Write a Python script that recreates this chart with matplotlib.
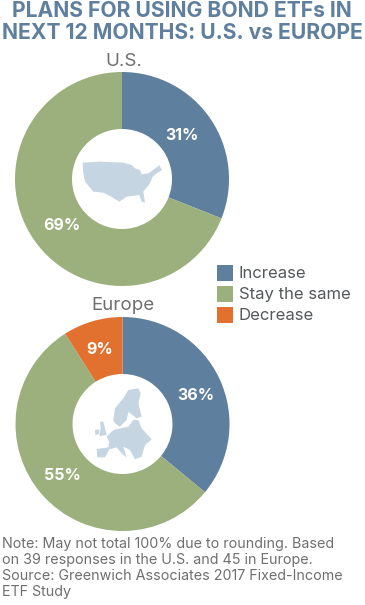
import matplotlib
matplotlib.use('Agg')
import matplotlib.pyplot as plt
from matplotlib.patches import Polygon, Rectangle

categories = ['Increase', 'Stay the same', 'Decrease']
us_values = [31, 69, 0]
eu_values = [36, 55, 9]
colors = ['#5f7f9e', '#9bb07d', '#e2702f']
title_lines = ['PLANS FOR USING BOND ETFs IN', 'NEXT 12 MONTHS: U.S. vs EUROPE']
note_lines = ['Note: May not total 100% due to rounding. Based',
              'on 39 responses in the U.S. and 45 in Europe.',
              'Source: Greenwich Associates 2017 Fixed-Income',
              'ETF Study']
# decorative map outlines, in reference pixels
us_zoom = [(68,68),(120,65),(190,68),(215,75),(225,85),(240,90),(245,103),(265,100),(298,76),(306,90),(290,100),(278,110),(270,130),(250,155),(255,188),(245,185),(238,165),(200,170),(178,185),(150,168),(130,158),(100,155),(75,125),(70,100)]
eu_zoom = [
 [(130,150),(135,115),(160,85),(175,60),(205,55),(212,70),(205,100),(215,140),(200,145),(175,125),(170,150),(150,170),(135,160)],
 [(90,155),(100,155),(110,195),(88,198),(92,175)],
 [(75,180),(88,178),(88,192),(76,195)],
 [(110,200),(130,180),(175,170),(190,150),(205,150),(215,175),(245,208),(225,225),(215,260),(195,268),(180,240),(160,230),(170,262),(155,250),(140,232),(118,238),(105,262),(82,262),(80,237),(115,232),(118,215)],
]
W, H = 365, 605
plt.rcParams['font.family'] = ['Inter', 'DejaVu Sans']
fig = plt.figure(figsize=(W/100, H/100), dpi=100)

def donut(cx, cy, r, vals):
    ax = fig.add_axes([(cx-r)/W, 1-(cy+r)/H, 2*r/W, 2*r/H])
    ax.pie(vals, colors=colors, startangle=90, counterclock=False, radius=1,
           wedgeprops=dict(width=1-50/r, linewidth=0), normalize=True)
    ax.set_xlim(-1, 1); ax.set_ylim(-1, 1); ax.axis('off')

donut(122, 179, 107, us_values)
donut(122.5, 424, 107, eu_values)

top = fig.add_axes([0, 0, 1, 1], zorder=10)
top.set_xlim(0, W); top.set_ylim(H, 0); top.axis('off')
top.patch.set_alpha(0)
top.add_patch(Polygon([(60+x/3, 140+y/3) for x, y in us_zoom], closed=True, fc='#c5d5e2', ec='none'))
for part in eu_zoom:
    top.add_patch(Polygon([(70+x/3, 370+y/3) for x, y in part], closed=True, fc='#c5d5e2', ec='none'))

for y, t in zip((11, 33), title_lines):
    top.text(182, y, t, color='#5f7f9e', fontsize=15.2, fontweight='bold', ha='center', va='center')
top.text(124, 61, 'U.S.', color='#6f6f6f', fontsize=13.5, ha='center', va='center')
top.text(123, 306, 'Europe', color='#6f6f6f', fontsize=13.5, ha='center', va='center')
for x, y, s in [(182,136,'31%'),(62,225,'69%'),(196,396,'36%'),(62,475,'55%'),(100,350,'9%')]:
    top.text(x, y, s, color='white', fontsize=11.5, fontweight='bold', ha='center', va='center')
for y, c, t in zip((273, 294, 315), colors, categories):
    top.add_patch(Rectangle((217, y-8), 16, 16, fc=c, ec='none'))
    top.text(239, y, t, color='#55585a', fontsize=12, ha='left', va='center')
for y, t in zip((544, 560, 576, 592), note_lines):
    top.text(2, y, t, color='#6f6f6f', fontsize=10.3, ha='left', va='center')
fig.savefig('out.png', dpi=100)
